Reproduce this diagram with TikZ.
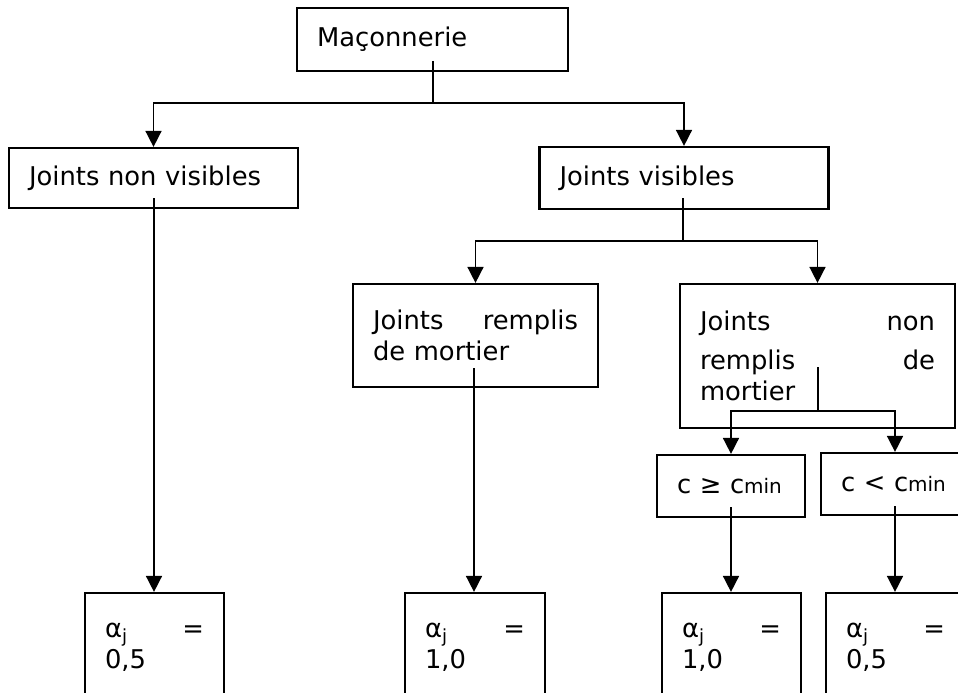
\documentclass[tikz,border=0pt]{standalone}
\usepackage{fontspec}
\setmainfont{DejaVu Sans}
\usetikzlibrary{arrows.meta}
\newcommand{\cmin}{c{\fontsize{20}{20}\selectfont min}}

\begin{document}
\begin{tikzpicture}[x=1pt, y=-1pt, line width=1.6pt,
        font=\fontsize{25.8}{31}\selectfont,
        box/.style={rectangle, draw, line width=2.2pt, inner xsep=20pt, inner ysep=0pt, align=left},
        arr/.style={-{Triangle[width=16pt,length=16pt]}}
    ]
    \useasboundingbox (0,0) rectangle (958,693);
    \clip (0,0) rectangle (958,693);

    \node[box, text width=231pt, minimum height=63pt] (mac) at (432.5,39.5) {Maçonnerie};
    \node[box, text width=249pt, minimum height=60pt] (jnv) at (153.5,178) {Joints non visibles};
    \node[box, text width=249pt, minimum height=62pt] (jv) at (684,178) {Joints visibles};
    \node[box, text width=205pt, minimum height=103pt] (jrm) at (475.5,335.5)
        {Joints\hfill remplis\\ de mortier};
    \node[box, text width=235pt, minimum height=144pt] (jnrm) at (817.5,356)
        {Joints\hfill non\\[8pt] remplis\hfill de\\ mortier};
    \node[box, text width=108pt, minimum height=62pt] (cge) at (731,486) {c ≥ \cmin};
    \node[box, text width=108pt, minimum height=62pt] (clt) at (895,484) {c < \cmin};
    \node[box, text width=99pt, minimum height=108pt] (a1) at (154.5,647) {α\textsubscript{j}\hfill =\\ 0,5};
    \node[box, text width=100pt, minimum height=108pt] (a2) at (475,647) {α\textsubscript{j}\hfill =\\ 1,0};
    \node[box, text width=99pt, minimum height=108pt] (a3) at (731.5,647) {α\textsubscript{j}\hfill =\\ 1,0};
    \node[box, text width=99pt, minimum height=108pt] (a4) at (895.5,647) {α\textsubscript{j}\hfill =\\ 0,5};

    \coordinate (macstem) at (433,61);
    \coordinate (macbus) at (433,103);
    \coordinate (jnvstem) at (154,198);
    \coordinate (jvstem) at (683,198);
    \coordinate (jvbus) at (683,241);
    \coordinate (jrmstem) at (474,368);
    \coordinate (jnrmstem) at (818,367);
    \coordinate (jnrmbus) at (818,411);
    \coordinate (cgestem) at (731,507);
    \coordinate (cltstem) at (895,506);

    \draw (macstem) -- (macbus);
    \draw[arr] (macbus) -| (jnv.north);
    \draw[arr] (macbus) -| (jv.north);
    \draw[arr] (jnvstem) -- (jnvstem |- a1.north);
    \draw (jvstem) -- (jvbus);
    \draw[arr] (jvbus) -| (jrm.north);
    \draw[arr] (jvbus) -| (jnrm.north);
    \draw[arr] (jrmstem) -- (jrmstem |- a2.north);
    \draw (jnrmstem) -- (jnrmbus);
    \draw[arr] (jnrmbus) -| (cge.north);
    \draw[arr] (jnrmbus) -| (clt.north);
    \draw[arr] (cgestem) -- (cgestem |- a3.north);
    \draw[arr] (cltstem) -- (cltstem |- a4.north);
\end{tikzpicture}
\end{document}
